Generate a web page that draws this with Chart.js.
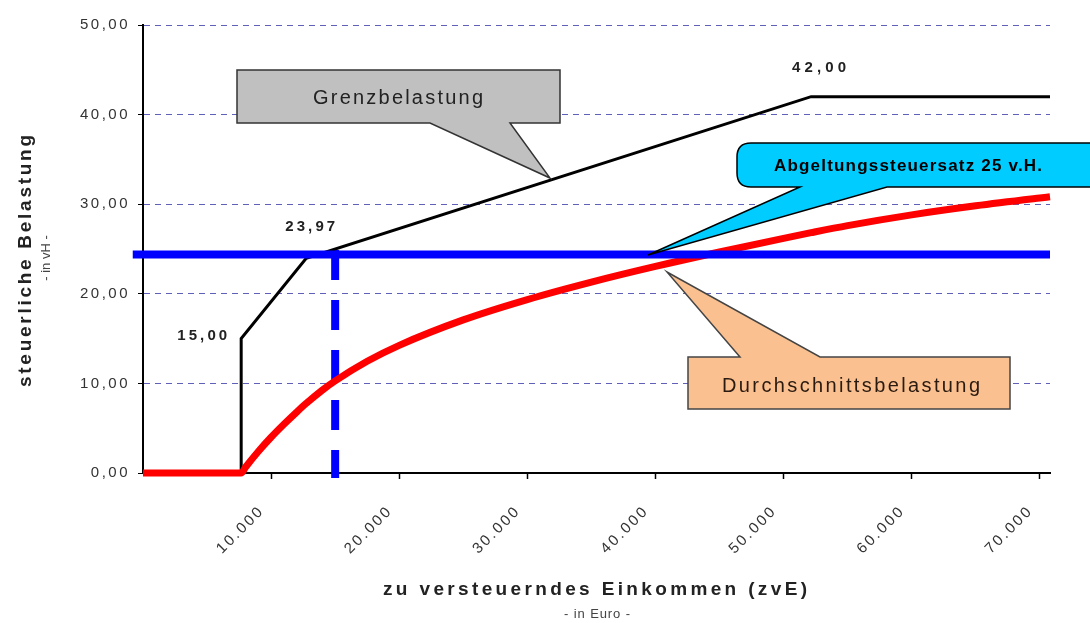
<!DOCTYPE html>
<html>
<head>
<meta charset="utf-8">
<script src="https://cdn.jsdelivr.net/npm/chart.js@4.4.1/dist/chart.umd.min.js"></script>
<style>
  html, body { margin: 0; padding: 0; background: #fff; }
</style>
</head>
<body>
<canvas id="taxChart" width="1090" height="623"></canvas>
<script>
// Durchschnittsbelastung (average rate, in %)
const avgIncome = [0, 7664, 8000, 9000, 10000, 11000, 12000, 12739, 14000, 15000, 17500, 20000, 25000, 30000, 35000, 40000, 45000, 50000, 52151, 55000, 60000, 65000, 70000, 70800];
const avgRate = [0, 0, 0.64, 2.40, 3.99, 5.44, 6.80, 7.76, 9.25, 10.28, 12.47, 14.25, 17.09, 19.36, 21.31, 23.06, 24.67, 26.19, 26.82, 27.61, 28.81, 29.82, 30.69, 30.82];

// Grenzbelastung (marginal rate, in %)
const margIncome = [0, 7664, 7664, 12739, 52151, 70800];
const margRate = [0, 0, 15, 23.97, 42, 42];

// Abgeltungssteuersatz line and the dashed marker below it
const flatIncome = [-800, 70800];
const flatRate = [24.4, 24.4];
const markIncome = [15000, 15000];
const markRate = [24.9, -0.56];

const xTicks = [10000, 20000, 30000, 40000, 50000, 60000, 70000];
const yTicks = [0, 10, 20, 30, 40, 50];

const toPoints = (xs, ys) => xs.map((x, i) => ({ x: x, y: ys[i] }));
const de = v => v.toFixed(2).replace('.', ',');
const FONT = '"Liberation Sans", Arial, sans-serif';

function spacedText(ctx, text, cx, cy, font, width, color) {
    ctx.save();
    ctx.font = font;
    ctx.fillStyle = color;
    ctx.textBaseline = 'middle';
    ctx.textAlign = 'left';
    ctx.letterSpacing = '0px';
    const w = ctx.measureText(text).width;
    const gap = text.length > 1 ? Math.max(0, (width - w) / (text.length - 1)) : 0;
    ctx.letterSpacing = gap + 'px';
    ctx.fillText(text, cx - Math.max(width, w) / 2, cy);
    ctx.restore();
}

function callout(ctx, pts, fill, stroke) {
    ctx.save();
    ctx.beginPath();
    pts.forEach((p, i) => i ? ctx.lineTo(p[0], p[1]) : ctx.moveTo(p[0], p[1]));
    ctx.closePath();
    ctx.fillStyle = fill;
    ctx.fill();
    ctx.lineWidth = 1.5;
    ctx.strokeStyle = stroke;
    ctx.stroke();
    ctx.restore();
}

const decorations = {
    id: 'decorations',
    beforeDraw(chart) {
        chart.ctx.letterSpacing = '2.5px';
    },
    afterDatasetsDraw(chart) {
        const ctx = chart.ctx;
        const xs = chart.scales.x, ys = chart.scales.y;
        ctx.letterSpacing = '0px';

        // Grenzbelastung box
        callout(ctx, [[237, 70], [560, 70], [560, 123], [510, 123], [550, 178], [430, 123], [237, 123]], '#c0c0c0', '#333');
        spacedText(ctx, 'Grenzbelastung', 398, 98, '20px ' + FONT, 170, '#222');

        // Abgeltungssteuersatz callout (rounded)
        ctx.save();
        ctx.beginPath();
        const l = 737, t = 143, b = 187, r = 14;
        ctx.moveTo(l + r, t);
        ctx.lineTo(1100, t);
        ctx.lineTo(1100, b);
        ctx.lineTo(887, b);
        ctx.lineTo(648, 255);
        ctx.lineTo(800, b);
        ctx.lineTo(l + r, b);
        ctx.quadraticCurveTo(l, b, l, b - r);
        ctx.lineTo(l, t + r);
        ctx.quadraticCurveTo(l, t, l + r, t);
        ctx.closePath();
        ctx.fillStyle = '#00ccff';
        ctx.fill();
        ctx.lineWidth = 1.5;
        ctx.strokeStyle = '#000';
        ctx.stroke();
        ctx.restore();
        spacedText(ctx, 'Abgeltungssteuersatz 25 v.H.', 908, 166, 'bold 17px ' + FONT, 268, '#000');

        // Durchschnittsbelastung box
        callout(ctx, [[688, 357], [740, 357], [667, 272], [820, 357], [1010, 357], [1010, 409], [688, 409]], '#fac090', '#444');
        spacedText(ctx, 'Durchschnittsbelastung', 851, 386, '20px ' + FONT, 258, '#2a1a10');

        // value labels on the marginal line
        const lab = 'bold 15px ' + FONT;
        spacedText(ctx, de(margRate[2]), xs.getPixelForValue(margIncome[2]) - 39, ys.getPixelForValue(margRate[2]) - 3, lab, 50, '#222');
        spacedText(ctx, de(margRate[3]), xs.getPixelForValue(margIncome[3]) + 4, ys.getPixelForValue(margRate[3]) - 31, lab, 50, '#222');
        spacedText(ctx, de(margRate[4]), xs.getPixelForValue(margIncome[4]) + 8, ys.getPixelForValue(margRate[4]) - 29, lab, 54, '#222');

        // axis titles
        spacedText(ctx, 'zu versteuerndes Einkommen (zvE)', 595, 590, 'bold 19px ' + FONT, 424, '#222');
        spacedText(ctx, '- in Euro -', 597, 614, '13px ' + FONT, 66, '#444');

        ctx.save();
        ctx.translate(26, 261);
        ctx.rotate(-Math.PI / 2);
        spacedText(ctx, 'steuerliche Belastung', 0, 0, 'bold 19px ' + FONT, 252, '#222');
        ctx.restore();
        ctx.save();
        ctx.translate(46, 258);
        ctx.rotate(-Math.PI / 2);
        spacedText(ctx, '- in vH -', 0, 0, '13px ' + FONT, 43, '#444');
        ctx.restore();
    }
};

const ctx = document.getElementById('taxChart').getContext('2d');

new Chart(ctx, {
    type: 'line',
    data: {
        datasets: [
            {
                label: 'Abgeltungssteuersatz',
                data: toPoints(flatIncome, flatRate),
                borderColor: '#0000ff',
                borderWidth: 8,
                pointRadius: 0,
                clip: false
            },
            {
                label: 'Durchschnittsbelastung',
                data: toPoints(avgIncome, avgRate),
                borderColor: '#ff0000',
                borderWidth: 7,
                pointRadius: 0,
                cubicInterpolationMode: 'monotone',
                clip: false
            },
            {
                label: 'Grenzbelastung',
                data: toPoints(margIncome, margRate),
                borderColor: '#000000',
                borderWidth: 3,
                pointRadius: 0,
                tension: 0
            },
            {
                label: 'Marke',
                data: toPoints(markIncome, markRate),
                borderColor: '#0000ff',
                borderWidth: 8,
                borderDash: [30, 20],
                pointRadius: 0,
                clip: false
            }
        ]
    },
    options: {
        responsive: false,
        animation: false,
        layout: { padding: { top: 25, right: 40, left: 0, bottom: 0 } },
        plugins: {
            legend: { display: false },
            tooltip: { enabled: false }
        },
        scales: {
            x: {
                type: 'linear',
                min: 0,
                max: 70800,
                afterBuildTicks: s => { s.ticks = xTicks.map(v => ({ value: v })); },
                afterFit: s => { s.height = 150; },
                ticks: {
                    minRotation: 45,
                    maxRotation: 45,
                    padding: 23,
                    labelOffset: -9,
                    color: '#333',
                    font: { family: FONT, size: 15 },
                    callback: v => v.toLocaleString('de-DE')
                },
                grid: {
                    drawOnChartArea: false,
                    tickLength: 6,
                    tickColor: '#000',
                    tickWidth: 1.5
                },
                border: { color: '#000', width: 2 }
            },
            y: {
                min: 0,
                max: 50,
                afterBuildTicks: s => { s.ticks = yTicks.map(v => ({ value: v })); },
                afterFit: s => { s.width = 143; },
                ticks: {
                    padding: 8,
                    color: '#333',
                    font: { family: FONT, size: 15 },
                    callback: v => de(v)
                },
                grid: {
                    color: '#6060b8',
                    lineWidth: 1,
                    tickLength: 5,
                    tickColor: '#000',
                    tickBorderDash: []
                },
                border: { color: '#000', width: 2, dash: [6, 5] }
            }
        }
    },
    plugins: [decorations]
});
</script>
</body>
</html>
